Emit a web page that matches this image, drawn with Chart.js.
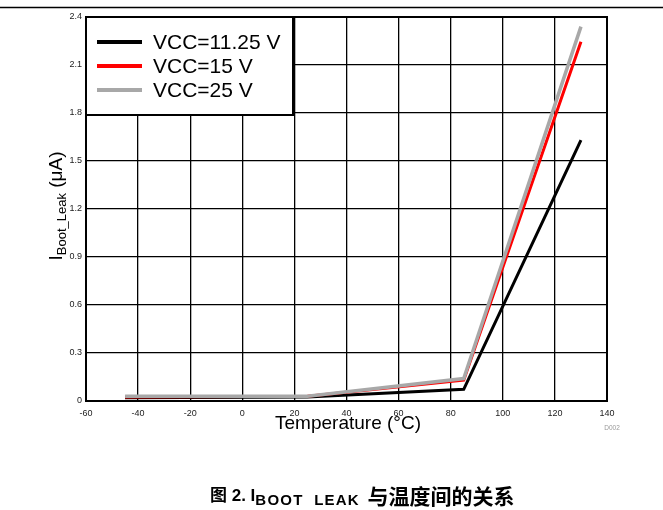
<!DOCTYPE html>
<html>
<head>
<meta charset="utf-8">
<script src="https://cdn.jsdelivr.net/npm/chart.js@4.4.1/dist/chart.umd.min.js"></script>
<style>
  html, body { margin: 0; padding: 0; background: #fff; }
  #wrap { position: relative; width: 663px; height: 510px; }
  #c { position: absolute; left: 0; top: 0; }
  #caption {
    position: absolute; left: 210px; top: 481px; white-space: nowrap; line-height: 20px;
    font: bold 17px "Liberation Sans", "Noto Sans CJK SC", sans-serif; color: #000;
  }
  #caption sub { font-size: 15px; letter-spacing: 1.2px; vertical-align: -4px; line-height: 0; }
  #caption .zh { font-size: 21px; line-height: 0; margin-left: 3px; vertical-align: -3px; font-family: "Noto Sans CJK SC", sans-serif; }
</style>
</head>
<body>
<div id="wrap">
  <canvas id="c" width="663" height="510"></canvas>
  <div id="caption">图 2. I<sub>BOOT&nbsp;&nbsp;LEAK</sub> <span class="zh">与温度间的关系</span></div>
</div>
<script>
// Boot leakage current vs. temperature, three supply voltages
const temps = [-45, 25, 85, 130];
const leakVcc1125 = [0.02, 0.025, 0.073, 1.63];
const leakVcc15 = [0.025, 0.03, 0.13, 2.245];
const leakVcc25 = [0.03, 0.03, 0.14, 2.34];
const seriesNames = ['VCC=11.25 V', 'VCC=15 V', 'VCC=25 V'];
const seriesColors = ['#000000', '#ff0000', '#a8a8a8'];
const xTicks = [-60, -40, -20, 0, 20, 40, 60, 80, 100, 120, 140];
const yTicks = [0, 0.3, 0.6, 0.9, 1.2, 1.5, 1.8, 2.1, 2.4];

const toPoints = vals => temps.map((t, i) => ({ x: t, y: vals[i] }));
const tickFont = { family: 'Liberation Sans, Arial', size: 9 };

const decorations = {
  id: 'decorations',
  beforeDraw(chart) {
    const ctx = chart.ctx;
    ctx.save();
    ctx.fillStyle = '#fff';
    ctx.fillRect(0, 0, chart.width, chart.height);
    ctx.strokeStyle = '#000';
    ctx.lineWidth = 1.5;
    ctx.beginPath();
    ctx.moveTo(0, 7.5);
    ctx.lineTo(chart.width, 7.5);
    ctx.stroke();
    ctx.restore();
  },
  afterDatasetsDraw(chart) {
    const ctx = chart.ctx;
    const a = chart.chartArea;
    ctx.save();
    // plot frame
    ctx.strokeStyle = '#000';
    ctx.lineWidth = 2;
    ctx.strokeRect(a.left, a.top, a.right - a.left, a.bottom - a.top);

    // legend box in the upper-left corner
    const bw = 207, bh = 98;
    ctx.fillStyle = '#fff';
    ctx.fillRect(a.left, a.top, bw, bh);
    ctx.strokeRect(a.left, a.top, bw, bh);
    ctx.font = '21px "Liberation Sans", Arial';
    ctx.textBaseline = 'middle';
    seriesNames.forEach((name, i) => {
      const y = a.top + 25 + i * 24;
      ctx.strokeStyle = seriesColors[i];
      ctx.lineWidth = 4;
      ctx.beginPath();
      ctx.moveTo(a.left + 11, y);
      ctx.lineTo(a.left + 56, y);
      ctx.stroke();
      ctx.fillStyle = '#000';
      ctx.fillText(name, a.left + 67, y + 1);
    });

    // x axis title
    ctx.fillStyle = '#000';
    ctx.textBaseline = 'alphabetic';
    ctx.textAlign = 'center';
    ctx.font = '19px "Liberation Sans", Arial';
    ctx.fillText('Temperature (°C)', 348, 429);

    // y axis title with subscript
    ctx.save();
    ctx.translate(62, 206);
    ctx.rotate(-Math.PI / 2);
    ctx.textAlign = 'left';
    const mainFont = '19px "Liberation Sans", Arial';
    const subFont = '13px "Liberation Sans", Arial';
    ctx.font = mainFont;
    const w1 = ctx.measureText('I').width;
    const w3 = ctx.measureText(' (μA)').width;
    ctx.font = subFont;
    const w2 = ctx.measureText('Boot_Leak').width;
    let x = -(w1 + w2 + w3) / 2;
    ctx.font = mainFont;
    ctx.fillText('I', x, 0);
    x += w1;
    ctx.font = subFont;
    ctx.fillText('Boot_Leak', x, 4);
    x += w2;
    ctx.font = mainFont;
    ctx.fillText(' (μA)', x, 0);
    ctx.restore();

    // figure id
    ctx.fillStyle = '#999';
    ctx.font = '6.5px "Liberation Sans", Arial';
    ctx.textAlign = 'center';
    ctx.fillText('D002', 612, 430);
    ctx.restore();
  }
};

new Chart(document.getElementById('c'), {
  type: 'line',
  data: {
    datasets: [
      { label: seriesNames[0], data: toPoints(leakVcc1125), borderColor: seriesColors[0], borderWidth: 3, order: 2 },
      { label: seriesNames[1], data: toPoints(leakVcc15), borderColor: seriesColors[1], borderWidth: 3, order: 1 },
      { label: seriesNames[2], data: toPoints(leakVcc25), borderColor: seriesColors[2], borderWidth: 3.5, order: 0 }
    ]
  },
  options: {
    responsive: false,
    animation: false,
    devicePixelRatio: 1,
    elements: { point: { radius: 0 }, line: { tension: 0, borderJoinStyle: 'miter' } },
    layout: { padding: { left: 0, right: 56, top: 17, bottom: 0 } },
    plugins: { legend: { display: false }, tooltip: { enabled: false } },
    scales: {
      x: {
        type: 'linear', min: -60, max: 140,
        afterBuildTicks: s => { s.ticks = xTicks.map(v => ({ value: v })); },
        afterFit: s => { s.height = 109; },
        grid: { color: '#000', lineWidth: 1.3, drawTicks: false },
        border: { display: true, color: '#000', width: 2 },
        ticks: { font: tickFont, color: '#222', padding: 7, maxRotation: 0, callback: v => String(v) }
      },
      y: {
        type: 'linear', min: 0, max: 2.4,
        afterBuildTicks: s => { s.ticks = yTicks.map(v => ({ value: v })); },
        afterFit: s => { s.width = 86; },
        grid: { color: '#000', lineWidth: 1.3, drawTicks: false },
        border: { display: true, color: '#000', width: 2 },
        ticks: { font: tickFont, color: '#222', padding: 4, callback: v => String(Number(v.toFixed(1))) }
      }
    }
  },
  plugins: [decorations]
});
</script>
</body>
</html>
